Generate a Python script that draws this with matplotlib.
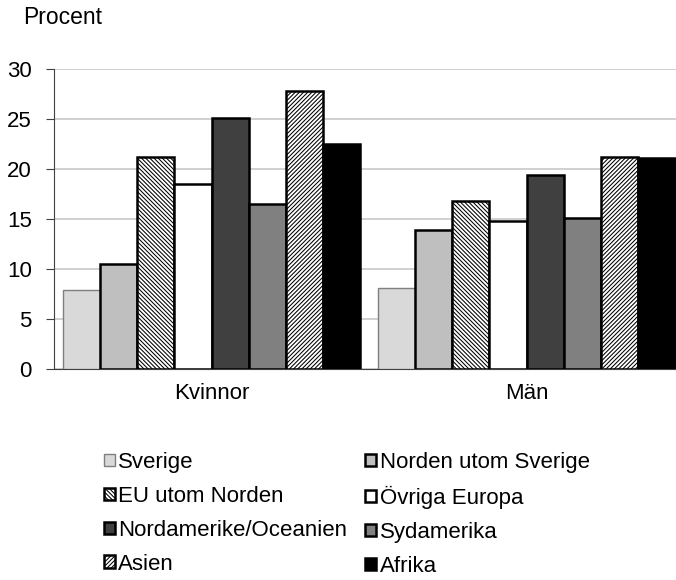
import numpy as np
import matplotlib.pyplot as plt

plt.rcParams['font.family'] = ['Liberation Sans', 'DejaVu Sans']
plt.rcParams['hatch.linewidth'] = 0.75

groups = ["Kvinnor", "Män"]
regions = ["Sverige", "Norden utom Sverige", "EU utom Norden", "Övriga Europa",
           "Nordamerike/Oceanien", "Sydamerika", "Asien", "Afrika"]
kvinnor = [7.9, 10.5, 21.2, 18.5, 25.1, 16.5, 27.8, 22.5]
man = [8.1, 13.9, 16.8, 14.8, 19.4, 15.1, 21.2, 21.1]

# style per region: fill, edge, hatch
styles = [
    ("#d9d9d9", "#7f7f7f", None),
    ("#bfbfbf", "black", None),
    ("white", "black", "\\\\\\\\\\\\\\\\"),
    ("white", "black", None),
    ("#404040", "black", None),
    ("#808080", "black", None),
    ("white", "black", "////////"),
    ("black", "black", None),
]

fig = plt.figure(figsize=(6.76, 5.8), dpi=100)
ax = fig.add_axes([54 / 676, 1 - 369 / 580, 1 - 54 / 676, 300 / 580])

values = np.array([kvinnor, man])
x = np.arange(len(groups))
width = 0.1179
bars = []
for i, name in enumerate(regions):
    fc, ec, hatch = styles[i]
    offset = (i - 3.5) * width
    lw = 1.0 if i == 0 else 1.8
    b = ax.bar(x + offset, values[:, i], width, color=fc, edgecolor=ec,
               hatch=hatch, linewidth=lw, label=name, zorder=3)
    bars.append(b)

ax.set_xlim(-0.5, 1.4746)
ax.set_ylim(0, 30)
ax.set_yticks(range(0, 31, 5))
ax.set_xticks(x)
ax.set_xticklabels(groups)
ax.yaxis.grid(True, color="#c8c8c8", linewidth=1.2, zorder=0)
ax.set_axisbelow(True)

for s in ["top", "right"]:
    ax.spines[s].set_visible(False)
ax.spines["left"].set_color("#404040")
ax.spines["bottom"].set_color("#404040")
ax.tick_params(axis="y", length=6, color="#404040", labelsize=16, pad=10)
ax.tick_params(axis="x", length=0, labelsize=16, pad=10)

fig.text(23 / 676, 1 - 18 / 580, "Procent", fontsize=16.5, va="center", ha="left")

# legend filled row by row
order = [0, 2, 4, 6, 1, 3, 5, 7]
fig.legend([bars[i] for i in order], [regions[i] for i in order],
           loc="upper left", bbox_to_anchor=(104 / 676, 1 - 452 / 580), ncol=2,
           frameon=False, fontsize=16, handlelength=0.5, handleheight=0.5,
           handletextpad=0.15, columnspacing=0.8, labelspacing=0.58,
           borderpad=0, borderaxespad=0)

fig.savefig("out.png", dpi=100)
